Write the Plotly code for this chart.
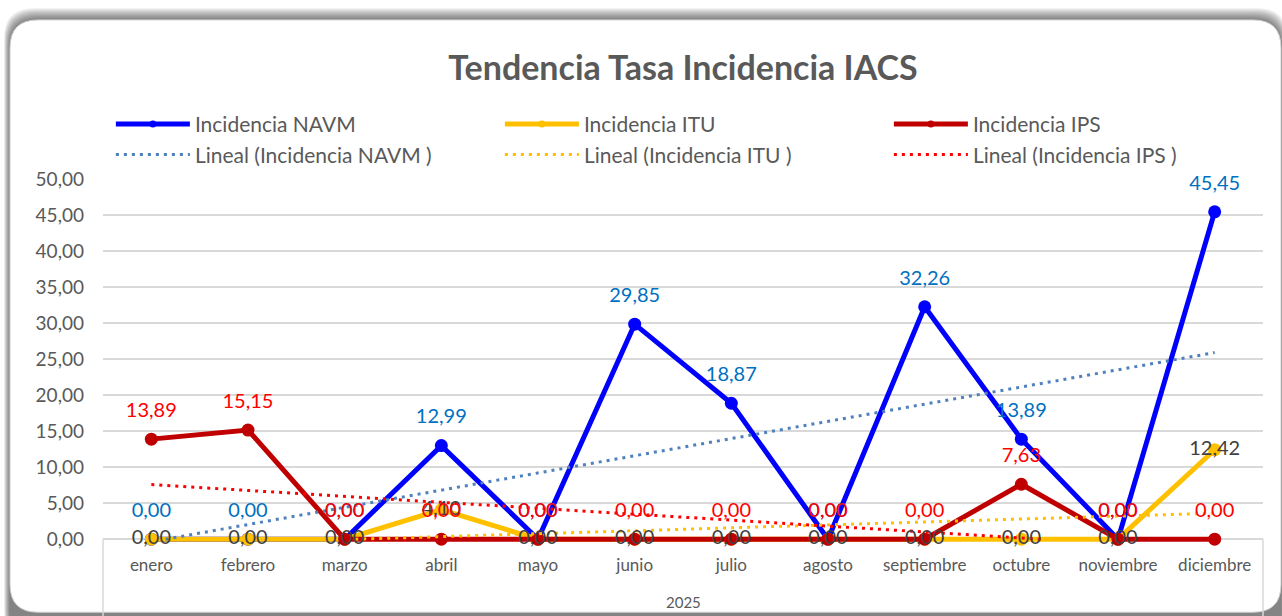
import numpy as np
import plotly.graph_objects as go

# ---------------- data ----------------
months = ['enero', 'febrero', 'marzo', 'abril', 'mayo', 'junio', 'julio',
          'agosto', 'septiembre', 'octubre', 'noviembre', 'diciembre']
navm = [0.00, 0.00, 0.00, 12.99, 0.00, 29.85, 18.87, 0.00, 32.26, 13.89, 0.00, 45.45]
itu = [0.00, 0.00, 0.00, 4.10, 0.00, 0.00, 0.00, 0.00, 0.00, 0.00, 0.00, 12.42]
ips = [13.89, 15.15, 0.00, 0.00, 0.00, 0.00, 0.00, 0.00, 0.00, 7.63, 0.00, 0.00]
year_label = '2025'
y_tick_vals = [0, 5, 10, 15, 20, 25, 30, 35, 40, 45, 50]
y_tick_text = ['0,00', '5,00', '10,00', '15,00', '20,00', '25,00', '30,00',
               '35,00', '40,00', '45,00', '50,00']
title_text = 'Tendencia Tasa Incidencia IACS'
names = ['Incidencia NAVM', 'Incidencia ITU', 'Incidencia IPS']
trend_names = ['Lineal (Incidencia NAVM )', 'Lineal (Incidencia ITU )', 'Lineal (Incidencia IPS )']

# ---------------- geometry ----------------
W, H = 1282, 616
L, R, T = 103, 19, 179
Y0_PX = 539.0          # pixel of value 0
PX_PER_UNIT = (Y0_PX - T) / 50.0
YMIN = -1.5
plot_h = (50 - YMIN) * PX_PER_UNIT
B = H - T - plot_h
plot_w = W - L - R

def xp(px):
    return (px - L) / plot_w

def yp(py):
    return (T + plot_h - py) / plot_h

FONT = 'Lato, Carlito, Calibri, sans-serif'
GRAY = '#595959'
GRID = '#d9d9d9'

xs = list(range(len(months)))

def fmt(v):
    return f'{v:.2f}'.replace('.', ',')

def trend(vals):
    x = np.arange(len(vals))
    m, b = np.polyfit(x, np.asarray(vals, float), 1)
    xa, xb = 0.0, float(len(vals) - 1)
    if m * xa + b < 0:
        xa = -b / m
    if m * xb + b < 0:
        xb = -b / m
    return [xa, xb], [m * xa + b, m * xb + b]

fig = go.Figure()

series = [navm, itu, ips]
colors = ['#0000FF', '#FFC000', '#C00000']
trend_colors = ['#4F81BD', '#FFC000', '#FF0000']
label_colors = ['#0070C0', '#404040', '#FF0000']
TREND_DASH = '3px,5px'

# legend-only entries (small marker in the legend like the original)
for name, c in zip(names, colors):
    fig.add_trace(go.Scatter(
        x=[None], y=[None], name=name, mode='lines+markers',
        line=dict(color=c, width=5), marker=dict(color=c, size=7),
    ))
for name, c in zip(trend_names, trend_colors):
    fig.add_trace(go.Scatter(
        x=[None], y=[None], name=name, mode='lines',
        line=dict(color=c, width=3, dash=TREND_DASH),
    ))

for vals, name, c in zip(series, names, colors):
    fig.add_trace(go.Scatter(
        x=xs, y=vals, name=name, mode='lines+markers', showlegend=False,
        line=dict(color=c, width=5),
        marker=dict(color=c, size=13),
        cliponaxis=False,
    ))

for vals, name, c in zip(series, trend_names, trend_colors):
    tx, ty = trend(vals)
    fig.add_trace(go.Scatter(
        x=tx, y=ty, name=name, mode='lines', showlegend=False,
        line=dict(color=c, width=3, dash=TREND_DASH),
    ))

# data labels (above for NAVM / IPS, centred for ITU)
for vals, c, pos in zip(series, label_colors, ['top center', 'middle center', 'top center']):
    fig.add_trace(go.Scatter(
        x=xs, y=vals, mode='markers+text', showlegend=False,
        text=[fmt(v) for v in vals], textposition=pos,
        textfont=dict(family=FONT, size=20, color=c),
        marker=dict(size=26, opacity=0),
        cliponaxis=False, hoverinfo='skip',
    ))

# ---------------- card background ----------------
def rrect(x0, y0, x1, y1, r):
    pts = [
        ('M', (x0 + r, y0)), ('L', (x1 - r, y0)),
        ('Q', (x1, y0), (x1, y0 + r)), ('L', (x1, y1 - r)),
        ('Q', (x1, y1), (x1 - r, y1)), ('L', (x0 + r, y1)),
        ('Q', (x0, y1), (x0, y1 - r)), ('L', (x0, y0 + r)),
        ('Q', (x0, y0), (x0 + r, y0)),
    ]
    s = ''
    for p in pts:
        cmd = p[0]
        coords = ' '.join(f'{xp(a):.6f},{yp(b):.6f}' for a, b in p[1:])
        s += f'{cmd} {coords} '
    return s + 'Z'

shapes = []
for k in range(12, 0, -1):
    shapes.append(dict(type='path', xref='paper', yref='paper', layer='below',
                       path=rrect(10 - k * 0.5, 20 - k, 1281 + k * 0.5, 640, 30),
                       fillcolor='rgba(0,0,0,0.05)', line=dict(width=0)))
shapes.append(dict(type='path', xref='paper', yref='paper', layer='below',
                   path=rrect(10, 20, 1281, 612, 28),
                   fillcolor='white', line=dict(color='#cfcfcf', width=1)))
# category group dividers
for px in (L, W - R):
    shapes.append(dict(type='line', xref='paper', yref='paper', layer='below',
                       x0=xp(px), x1=xp(px), y0=yp(Y0_PX), y1=yp(616),
                       line=dict(color=GRID, width=1.5)))

fig.update_layout(
    width=W, height=H,
    margin=dict(l=L, r=R, t=T, b=B, autoexpand=False),
    paper_bgcolor='white', plot_bgcolor='rgba(0,0,0,0)',
    font=dict(family=FONT, color=GRAY),
    title=dict(text=title_text, x=0.5, xanchor='center', xref='paper',
               y=1 - 68 / H, yanchor='middle', yref='container',
               font=dict(family=FONT, size=34, color=GRAY, weight=700)),
    showlegend=True,
    legend=dict(orientation='h', x=-0.0001, xanchor='left', y=yp(104), yanchor='top',
                entrywidth=292, entrywidthmode='pixels', itemwidth=74, indentation=8,
                font=dict(family=FONT, size=21, color=GRAY),
                bgcolor='rgba(0,0,0,0)', traceorder='normal'),
    shapes=shapes,
    annotations=[dict(text=year_label, xref='paper', yref='paper',
                      x=xp(683), y=yp(602), xanchor='center', yanchor='middle',
                      showarrow=False,
                      font=dict(family=FONT, size=15, color=GRAY))],
)

fig.update_xaxes(range=[-0.5, len(months) - 0.5], tickvals=xs, ticktext=months,
                 showgrid=False, zeroline=False, showline=False, ticks='',
                 ticklabelstandoff=3,
                 tickfont=dict(family=FONT, size=17, color=GRAY))
fig.update_yaxes(range=[YMIN, 50], tickvals=y_tick_vals, ticktext=y_tick_text,
                 showgrid=True, gridcolor=GRID, gridwidth=1.5, zeroline=False,
                 showline=False, ticks='', ticklabelstandoff=18,
                 tickfont=dict(family=FONT, size=19, color=GRAY))

fig.write_html('out.html', config={'displayModeBar': False},
               post_script="document.body.style.margin='0';document.body.style.padding='0';")
